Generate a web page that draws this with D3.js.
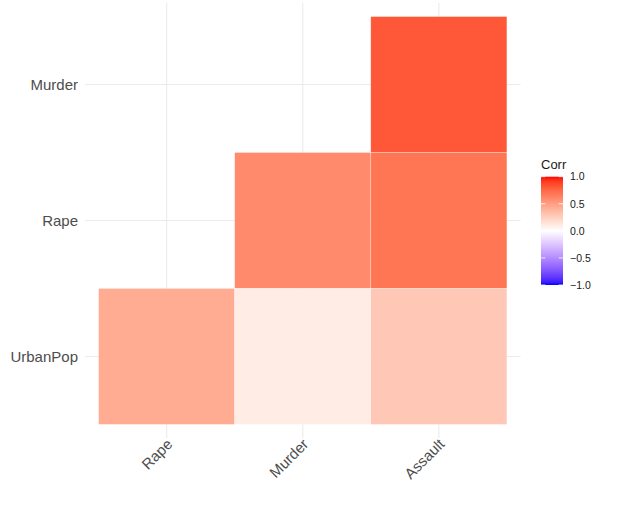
<!DOCTYPE html>
<html>
<head>
<meta charset="utf-8">
<script src="https://cdn.jsdelivr.net/npm/d3@7"></script>
<style>
  body { margin: 0; background: #fff; }
  svg { display: block; font-family: "Liberation Sans", Arial, sans-serif; }
</style>
</head>
<body>
<svg width="630" height="528"></svg>
<script>
// columns along x, rows along y (top to bottom)
const cols = ["Rape", "Murder", "Assault"];
const rows = ["Murder", "Rape", "UrbanPop"];

const murderRow = [null, null, 0.81];
const rapeRow = [null, 0.59, 0.69];
const urbanPopRow = [0.43, 0.10, 0.29];

const legendTicks = [-1, -0.5, 0, 0.5, 1];

const rowValues = [murderRow, rapeRow, urbanPopRow];

const cells = [];
rows.forEach((r, i) => {
  cols.forEach((c, j) => {
    const v = rowValues[i][j];
    if (v !== null) cells.push({ row: r, col: c, value: v });
  });
});

const svg = d3.select("svg");

const panel = { left: 85, right: 520.5, top: 3, bottom: 438 };

// prettier-ignore
const x = d3.scaleBand()
    .domain(cols)
    .range([panel.left, panel.right])
    .paddingInner(0)
    .paddingOuter(0.1);

// prettier-ignore
const y = d3.scaleBand()
    .domain(rows)
    .range([panel.top, panel.bottom])
    .paddingInner(0)
    .paddingOuter(0.1);

// Lab (D65 white) mixing, like R's colour ramps
function toLin(c) {
  c /= 255;
  return c <= 0.04045 ? c / 12.92 : Math.pow((c + 0.055) / 1.055, 2.4);
}
function fromLin(c) {
  c = c <= 0.0031308 ? 12.92 * c : 1.055 * Math.pow(c, 1 / 2.4) - 0.055;
  return Math.max(0, Math.min(255, Math.round(c * 255)));
}
function toLab(hex) {
  const c = d3.rgb(hex);
  const r = toLin(c.r), g = toLin(c.g), b = toLin(c.b);
  const X = (0.4124 * r + 0.3576 * g + 0.1805 * b) / 0.95047;
  const Y = 0.2126 * r + 0.7152 * g + 0.0722 * b;
  const Z = (0.0193 * r + 0.1192 * g + 0.9505 * b) / 1.08883;
  const f = t => (t > 0.008856 ? Math.cbrt(t) : 7.787 * t + 16 / 116);
  return [116 * f(Y) - 16, 500 * (f(X) - f(Y)), 200 * (f(Y) - f(Z))];
}
function fromLab([L, a, bb]) {
  const fy = (L + 16) / 116, fx = fy + a / 500, fz = fy - bb / 200;
  const inv = t => (t * t * t > 0.008856 ? t * t * t : (t - 16 / 116) / 7.787);
  const X = inv(fx) * 0.95047, Y = inv(fy), Z = inv(fz) * 1.08883;
  const r = 3.2406 * X - 1.5372 * Y - 0.4986 * Z;
  const g = -0.9689 * X + 1.8758 * Y + 0.0415 * Z;
  const b = 0.0557 * X - 0.204 * Y + 1.057 * Z;
  return d3.rgb(fromLin(r), fromLin(g), fromLin(b)).formatHex();
}
const labWhite = toLab("#ffffff"), labRed = toLab("#ff0000"), labBlue = toLab("#0000ff");
function mix(a, b, t) {
  return fromLab(a.map((v, i) => v + (b[i] - v) * t));
}
const colorScale = v => (v >= 0 ? mix(labWhite, labRed, v) : mix(labWhite, labBlue, -v));

// grid lines
const grid = svg.append("g");
grid.selectAll("line.gx")
  .data(cols)
  .enter()
  .append("line")
  .attr("x1", d => x(d) + x.bandwidth() / 2)
  .attr("x2", d => x(d) + x.bandwidth() / 2)
  .attr("y1", panel.top)
  .attr("y2", panel.bottom)
  .style("stroke", "#ebebeb")
  .style("stroke-width", 1.1);

grid.selectAll("line.gy")
  .data(rows)
  .enter()
  .append("line")
  .attr("x1", panel.left)
  .attr("x2", panel.right)
  .attr("y1", d => y(d) + y.bandwidth() / 2)
  .attr("y2", d => y(d) + y.bandwidth() / 2)
  .style("stroke", "#ebebeb")
  .style("stroke-width", 1.1);

// tiles
svg.append("g")
  .selectAll("rect")
  .data(cells)
  .enter()
  .append("rect")
  .attr("x", d => x(d.col))
  .attr("y", d => y(d.row))
  .attr("width", x.bandwidth())
  .attr("height", y.bandwidth())
  .style("fill", d => colorScale(d.value))
  .style("stroke", "white")
  .style("stroke-width", 0.5)
  .style("stroke-opacity", 0.5);

// y axis labels
svg.append("g")
  .selectAll("text")
  .data(rows)
  .enter()
  .append("text")
  .attr("x", 78)
  .attr("y", d => y(d) + y.bandwidth() / 2)
  .attr("dy", "0.36em")
  .attr("text-anchor", "end")
  .style("font-size", "15px")
  .style("fill", "#4d4d4d")
  .text(d => d);

// x axis labels, rotated 45 degrees
svg.append("g")
  .selectAll("text")
  .data(cols)
  .enter()
  .append("text")
  .attr("transform", d => `translate(${x(d) + x.bandwidth() / 2 - 1},${437.5}) rotate(-45)`)
  .attr("text-anchor", "end")
  .attr("dy", "0.72em")
  .style("font-size", "15px")
  .style("fill", "#4d4d4d")
  .text(d => d);

// legend
const legend = { x: 541, top: 176.7, height: 108.3, width: 22 };

// prettier-ignore
const legendScale = d3.scaleLinear()
    .domain([1, -1])
    .range([legend.top, legend.top + legend.height]);

const defs = svg.append("defs");
const grad = defs.append("linearGradient")
  .attr("id", "corrGrad")
  .attr("x1", 0).attr("y1", 0)
  .attr("x2", 0).attr("y2", 1);

grad.selectAll("stop")
  .data(d3.range(0, 41).map(i => 1 - i / 20))
  .enter()
  .append("stop")
  .attr("offset", d => (1 - d) / 2)
  .attr("stop-color", d => colorScale(d));

const lg = svg.append("g");

lg.append("text")
  .attr("x", legend.x)
  .attr("y", 168.5)
  .style("font-size", "13px")
  .style("fill", "#1a1a1a")
  .text("Corr");

lg.append("rect")
  .attr("x", legend.x)
  .attr("y", legend.top)
  .attr("width", legend.width)
  .attr("height", legend.height)
  .style("fill", "url(#corrGrad)");

lg.selectAll("line.tl")
  .data(legendTicks)
  .enter()
  .append("line")
  .attr("x1", legend.x)
  .attr("x2", legend.x + 4.4)
  .attr("y1", d => legendScale(d))
  .attr("y2", d => legendScale(d))
  .style("stroke", "white")
  .style("stroke-width", 0.8);

lg.selectAll("line.tr")
  .data(legendTicks)
  .enter()
  .append("line")
  .attr("x1", legend.x + legend.width - 4.4)
  .attr("x2", legend.x + legend.width)
  .attr("y1", d => legendScale(d))
  .attr("y2", d => legendScale(d))
  .style("stroke", "white")
  .style("stroke-width", 0.8);

const format = d3.format(".1f");
lg.selectAll("text.lab")
  .data(legendTicks)
  .enter()
  .append("text")
  .attr("x", 570)
  .attr("y", d => legendScale(d))
  .attr("dy", "0.36em")
  .style("font-size", "10.5px")
  .style("fill", "#1a1a1a")
  .text(d => format(d));
</script>
</body>
</html>
